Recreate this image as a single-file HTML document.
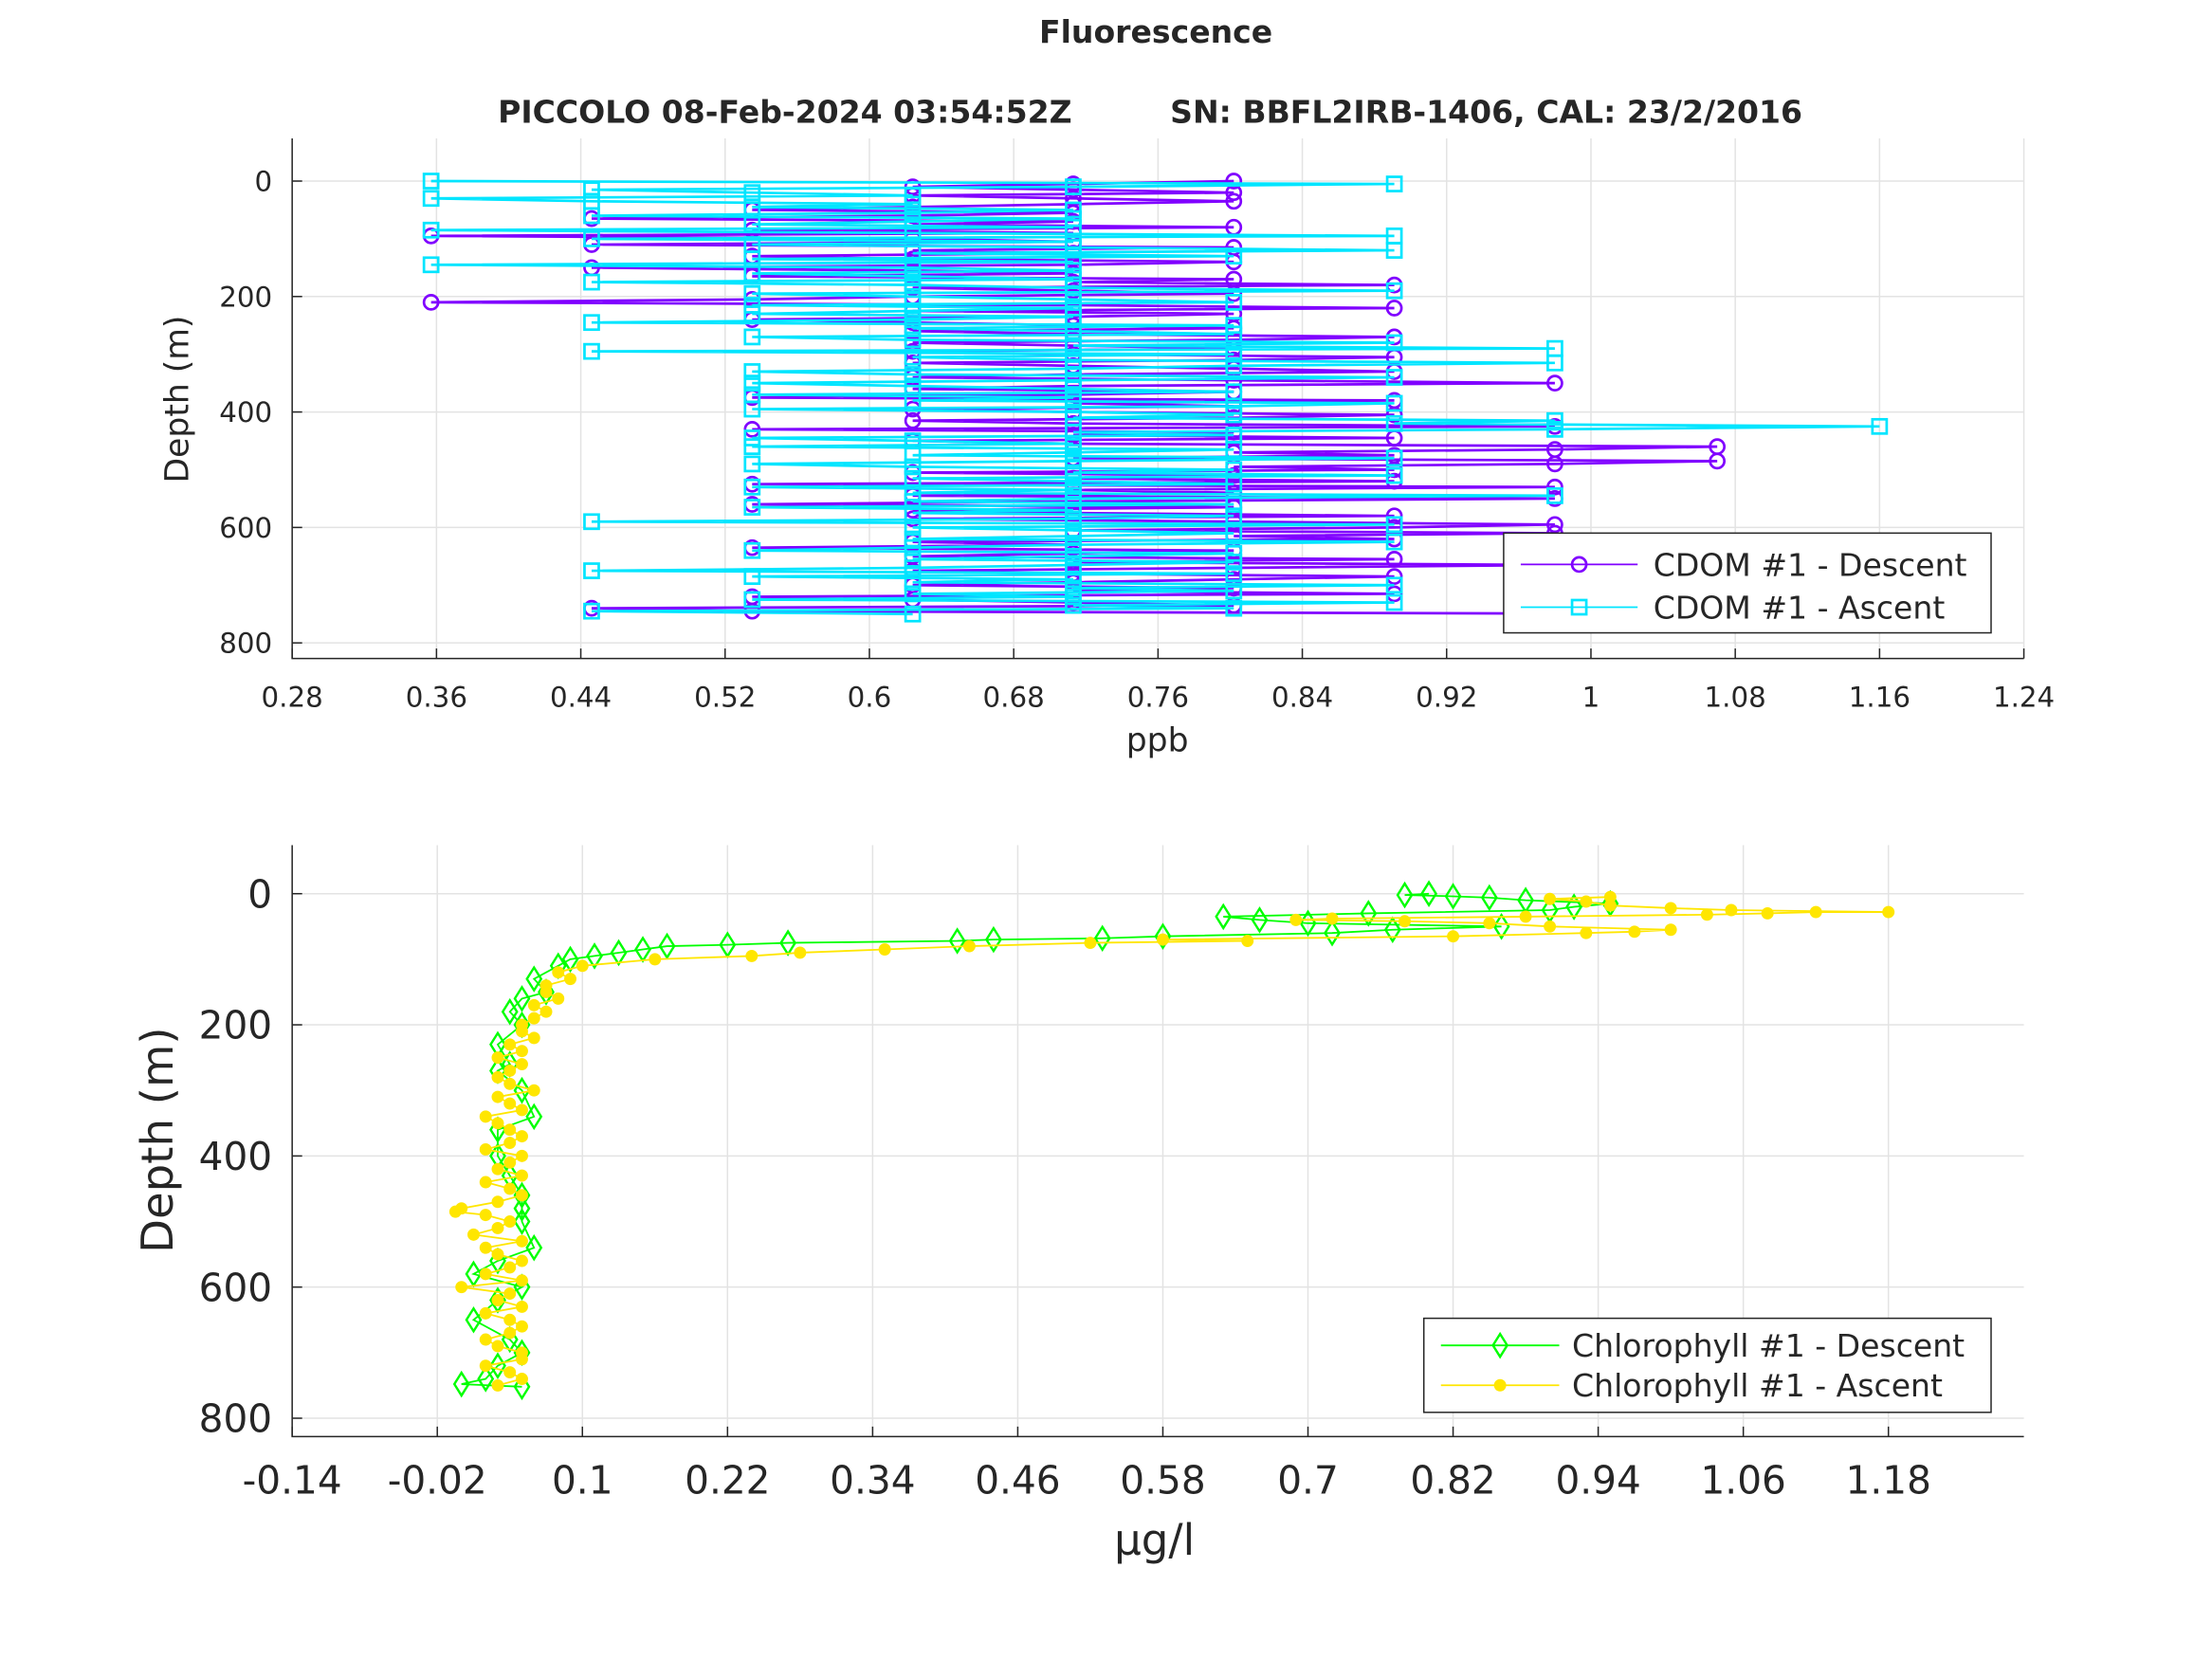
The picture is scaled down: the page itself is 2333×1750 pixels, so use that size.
<!DOCTYPE html>
<html><head><meta charset="utf-8"><style>
html,body{margin:0;padding:0;background:#fff}
svg{display:block}
text{font-family:"DejaVu Sans","Liberation Sans",sans-serif;fill:#262626}
</style></head><body>
<svg id="chart" width="2333" height="1750" viewBox="0 0 1552 1164" xmlns="http://www.w3.org/2000/svg">
<rect width="1552" height="1164" fill="#fff"/>
<text x="811" y="30" font-size="22" font-weight="bold" text-anchor="middle" fill="#000">Fluorescence</text>
<text x="807" y="86" font-size="22" font-weight="bold" text-anchor="middle" fill="#000" xml:space="preserve">PICCOLO 08-Feb-2024 03:54:52Z         SN: BBFL2IRB-1406, CAL: 23/2/2016</text>
<g id="top"></g>
<g id="bot"></g>
</svg>
<script>
// ---- CDOM data ----
const cdomDescDepth=[0,5,10,15,20,25,30,35,40,45,50,55,60,65,70,75,80,85,90,95,100,105,110,115,120,125,130,135,140,145,150,155,160,165,170,175,180,185,190,195,200,205,210,215,220,225,230,235,240,245,250,255,260,265,270,275,280,285,290,295,300,305,310,315,320,325,330,335,340,345,350,355,360,365,370,375,380,385,390,395,400,405,410,415,420,425,430,435,440,445,450,455,460,465,470,475,480,485,490,495,500,505,510,515,520,525,530,535,540,545,550,555,560,565,570,575,580,585,590,595,600,605,610,615,620,625,630,635,640,645,650,655,660,665,670,675,680,685,690,695,700,705,710,715,720,725,730,735,740,745,750];
const cdomDescVal=[0.802,0.713,0.624,0.713,0.802,0.624,0.713,0.802,0.713,0.624,
0.535,0.713,0.624,0.446,0.713,0.624,0.802,0.535,0.713,0.357,
0.624,0.713,0.446,0.802,0.624,0.713,0.535,0.624,0.802,0.713,
0.446,0.624,0.713,0.535,0.802,0.713,0.891,0.624,0.713,0.802,
0.624,0.535,0.357,0.713,0.891,0.624,0.802,0.713,0.535,0.624,
0.713,0.802,0.624,0.713,0.891,0.802,0.624,0.713,0.802,0.624,
0.713,0.891,0.802,0.624,0.713,0.802,0.891,0.713,0.624,0.802,
0.98,0.713,0.624,0.802,0.713,0.535,0.891,0.713,0.802,0.624,
0.713,0.891,0.802,0.624,0.713,0.98,0.535,0.802,0.713,0.891,
0.624,0.713,1.07,0.98,0.802,0.891,0.713,1.07,0.98,0.802,
0.891,0.624,0.802,0.713,0.891,0.535,0.98,0.713,0.802,0.624,
0.98,0.713,0.535,0.802,0.624,0.713,0.891,0.624,0.802,0.98,
0.891,0.713,0.98,0.802,0.891,0.624,0.713,0.535,0.802,0.713,
0.624,0.891,0.713,0.98,0.802,0.624,0.713,0.891,0.802,0.713,
0.624,0.802,0.713,0.891,0.535,0.624,0.713,0.802,0.446,0.535,
1.07];
const cdomAscDepth=[750,745,740,735,730,725,720,715,710,705,700,695,690,685,680,675,670,665,660,655,650,645,640,635,630,625,620,615,610,605,600,595,590,585,580,575,570,565,560,555,550,545,540,535,530,525,520,515,510,505,500,495,490,485,480,475,470,465,460,455,450,445,440,435,430,425,420,415,410,405,400,395,390,385,380,375,370,365,360,355,350,345,340,335,330,325,320,315,310,305,300,295,290,285,280,275,270,265,260,255,250,245,240,235,230,225,220,215,210,205,200,195,190,185,180,175,170,165,160,155,150,145,140,135,130,125,120,115,110,105,100,95,90,85,80,75,70,65,60,55,50,45,40,35,30,25,20,15,10,5,0];
const cdomAscVal=[0.624,0.446,0.802,0.713,0.891,0.535,0.713,0.624,0.802,0.713,
0.891,0.624,0.713,0.535,0.802,0.446,0.624,0.713,0.802,0.624,
0.713,0.802,0.535,0.624,0.713,0.891,0.624,0.713,0.802,0.713,
0.624,0.891,0.446,0.713,0.802,0.624,0.713,0.535,0.802,0.624,
0.713,0.98,0.624,0.713,0.535,0.802,0.713,0.624,0.891,0.713,
0.802,0.624,0.535,0.713,0.891,0.624,0.713,0.802,0.535,0.713,
0.624,0.535,0.802,0.713,0.98,1.16,0.891,0.98,0.713,0.802,
0.713,0.535,0.802,0.891,0.624,0.713,0.535,0.802,0.713,0.624,
0.535,0.713,0.891,0.624,0.535,0.713,0.802,0.98,0.713,0.624,
0.802,0.446,0.98,0.713,0.891,0.624,0.535,0.802,0.713,0.624,
0.802,0.446,0.624,0.713,0.535,0.624,0.713,0.535,0.802,0.713,
0.624,0.535,0.891,0.713,0.624,0.446,0.713,0.624,0.535,0.713,
0.624,0.357,0.713,0.535,0.802,0.624,0.891,0.713,0.535,0.713,
0.446,0.891,0.624,0.357,0.713,0.535,0.624,0.713,0.446,0.624,
0.713,0.535,0.624,0.446,0.357,0.624,0.535,0.446,0.713,0.891,
0.357];
const topXTicks=[0.28,0.36,0.44,0.52,0.6,0.68,0.76,0.84,0.92,1,1.08,1.16,1.24];
const topXLabels=["0.28","0.36","0.44","0.52","0.6","0.68","0.76","0.84","0.92","1","1.08","1.16","1.24"];
const yTicks=[0,200,400,600,800];
// ---- Chlorophyll data ----
const chlDescDepth=[0,2,4,6,10,15,20,25,30,35,40,45,50,55,60,65,68,70,72,75,78,80,85,90,95,100,110,130,150,160,180,200,230,260,270,300,340,360,400,430,460,480,500,540,560,580,600,620,650,680,700,720,740,748,752];
const chlDescVal=[0.80,0.78,0.82,0.85,0.88,0.95,0.92,0.90,0.75,0.63,0.66,0.70,0.86,0.77,0.72,0.58,0.53,0.44,0.41,0.27,0.22,0.17,0.15,0.13,0.11,0.09,0.08,0.06,0.07,0.05,0.04,0.05,0.03,0.04,0.03,0.05,0.06,0.03,0.03,0.04,0.05,0.05,0.05,0.06,0.03,0.01,0.05,0.03,0.01,0.04,0.05,0.03,0.02,0.0,0.05];
const chlAscDepth=[750,740,730,720,710,700,690,680,670,660,650,640,630,620,610,600,590,580,570,560,550,540,530,520,510,500,490,485,480,470,460,450,440,430,420,410,400,390,380,370,360,350,340,330,320,310,300,290,280,270,260,250,240,230,220,210,200,190,180,170,160,150,140,130,120,110,100,95,90,85,80,75,72,70,65,60,58,55,50,45,42,40,38,35,32,30,28,28,25,22,18,12,8,5];
const chlAscVal=[0.03,0.05,0.04,0.02,0.05,0.05,0.03,0.02,0.04,0.05,
0.04,0.02,0.05,0.03,0.04,0.0,0.05,0.02,0.04,0.05,
0.03,0.02,0.05,0.01,0.03,0.04,0.02,-0.005,0.0,
0.03,0.05,0.04,0.02,0.05,0.03,0.04,0.05,0.02,0.04,
0.05,0.04,0.03,0.02,0.05,0.04,0.03,0.06,0.04,0.03,
0.04,0.05,0.03,0.05,0.04,0.06,0.05,0.05,0.06,0.07,
0.06,0.08,0.07,0.07,0.09,0.08,
0.1,0.16,0.24,0.28,0.35,0.42,0.52,0.65,0.58,0.82,0.93,0.97,1.0,0.90,0.85,0.78,0.69,0.72,0.88,1.03,1.08,1.12,1.18,1.05,1.0,0.95,0.93,0.90,0.95];
const botXTicks=[-0.14,-0.02,0.1,0.22,0.34,0.46,0.58,0.7,0.82,0.94,1.06,1.18];
const botXLabels=["-0.14","-0.02","0.1","0.22","0.34","0.46","0.58","0.7","0.82","0.94","1.06","1.18"];

const NS="http://www.w3.org/2000/svg";
function mk(tag,attrs,parent){const e=document.createElementNS(NS,tag);for(const k in attrs)e.setAttribute(k,attrs[k]);parent.appendChild(e);return e;}

function axes(g,o){
  const sx=v=>o.x0+(v-o.xmin)/(o.xmax-o.xmin)*(o.x1-o.x0);
  const sy=v=>o.y0+(v-o.ymin)/(o.ymax-o.ymin)*(o.y1-o.y0);
  o.xt.forEach((t,i)=>{
    const l=mk('line',{x1:sx(t),x2:sx(t),y1:o.y0,y2:o.y1,stroke:'#e3e3e3','stroke-width':1},g);
    
    
    const tk=mk('line',{x1:sx(t),x2:sx(t),y1:o.y1,y2:o.y1-7,stroke:'#262626','stroke-width':1},g);
    
    
    const tx=mk('text',{x:sx(t),y:o.y1+o.xoff,'font-size':o.fs,'text-anchor':'middle'},g);tx.textContent=o.xl[i];
    
    
  });
  yTicks.forEach(t=>{
    const l=mk('line',{x1:o.x0,x2:o.x1,y1:sy(t),y2:sy(t),stroke:'#e3e3e3','stroke-width':1},g);
    
    
    const tk=mk('line',{x1:o.x0,x2:o.x0+7,y1:sy(t),y2:sy(t),stroke:'#262626','stroke-width':1},g);
    
    
    const tx=mk('text',{x:o.x0-14,y:sy(t)+o.fs*0.36,'font-size':o.fs,'text-anchor':'end'},g);tx.textContent=String(t);
    
    
  });
  const ax=mk('path',{d:`M${o.x0},${o.y0}V${o.y1}H${o.x1}`,fill:'none',stroke:'#262626','stroke-width':1},g);
  
  
  return {sx,sy};
}
function drawMarker(g,m,x,y,c){
  if(m==='o')return mk('circle',{cx:x,cy:y,r:5,fill:'none',stroke:c,'stroke-width':1.8},g);
  if(m==='s')return mk('rect',{x:x-5,y:y-5,width:10,height:10,fill:'none',stroke:c,'stroke-width':1.8},g);
  if(m==='d')return mk('path',{d:`M${x},${y-8}L${x+5},${y}L${x},${y+8}L${x-5},${y}Z`,fill:'none',stroke:c,'stroke-width':1.6},g);
  return mk('circle',{cx:x,cy:y,r:3.8,fill:c,stroke:c,'stroke-width':1},g);
}
function series(g,s,dep,val,color,marker,name,w){
  const pts=dep.map((d,i)=>[s.sx(val[i]),s.sy(d)]);
  const pl=mk('polyline',{points:pts.map(p=>p.join(',')).join(' '),fill:'none',stroke:color,'stroke-width':w},g);
  
  
  pts.forEach(p=>{
    const m=drawMarker(g,marker,p[0],p[1],color);
    
    
  });
}
function legend(g,o){
  const r=mk('rect',{x:o.x,y:o.y,width:o.w,height:o.h,fill:'#fff',stroke:'#262626','stroke-width':1},g);
  
  
  o.items.forEach((it,i)=>{
    const cy=o.rows[i];
    const l=mk('line',{x1:o.l1,x2:o.l2,y1:cy,y2:cy,stroke:it.c,'stroke-width':1.2},g);
    
    
    const m=drawMarker(g,it.m,(o.l1+o.l2)/2,cy,it.c);
    
    
    const t=mk('text',{x:o.tx,y:cy+o.fs*0.36,'font-size':o.fs,fill:'#000'},g);t.textContent=it.t;
    
    
  });
}
// top
const gt=document.getElementById('top');
const st=axes(gt,{x0:205,x1:1420,y0:97,y1:462,xmin:0.28,xmax:1.24,ymin:-74,ymax:827,xt:topXTicks,xl:topXLabels,fs:19.5,xoff:34});
series(gt,st,cdomDescDepth,cdomDescVal,'#8000ff','o','cdom-descent',1.8);
series(gt,st,cdomAscDepth,cdomAscVal,'#00e5ff','s','cdom-ascent',1.8);
legend(gt,{x:1055,y:374,w:342,h:70,l1:1067,l2:1149,tx:1160,rows:[396,426],fs:22,items:[{c:'#8000ff',m:'o',t:'CDOM #1 - Descent'},{c:'#00e5ff',m:'s',t:'CDOM #1 - Ascent'}]});
let t=mk('text',{x:812,y:527,'font-size':23,'text-anchor':'middle'},gt);t.textContent='ppb';


t=mk('text',{x:0,y:0,'font-size':23,'text-anchor':'middle',transform:'translate(132,280) rotate(-90)'},gt);t.textContent='Depth (m)';


// bottom
const gb=document.getElementById('bot');
const sb=axes(gb,{x0:205,x1:1420,y0:593,y1:1008,xmin:-0.14,xmax:1.292,ymin:-74,ymax:828,xt:botXTicks,xl:botXLabels,fs:27,xoff:40});
series(gb,sb,chlDescDepth,chlDescVal,'#00ff00','d','chlorophyll-descent',1.2);
series(gb,sb,chlAscDepth,chlAscVal,'#ffe600','*','chlorophyll-ascent',1.2);
legend(gb,{x:999,y:925,w:398,h:66,l1:1011,l2:1094,tx:1103,rows:[944,972],fs:22,items:[{c:'#00ff00',m:'d',t:'Chlorophyll #1 - Descent'},{c:'#ffe600',m:'*',t:'Chlorophyll #1 - Ascent'}]});
t=mk('text',{x:810,y:1091,'font-size':30,'text-anchor':'middle'},gb);t.textContent='μg/l';


t=mk('text',{x:0,y:0,'font-size':31,'text-anchor':'middle',transform:'translate(121,800) rotate(-90)'},gb);t.textContent='Depth (m)';


</script>
</body></html>
